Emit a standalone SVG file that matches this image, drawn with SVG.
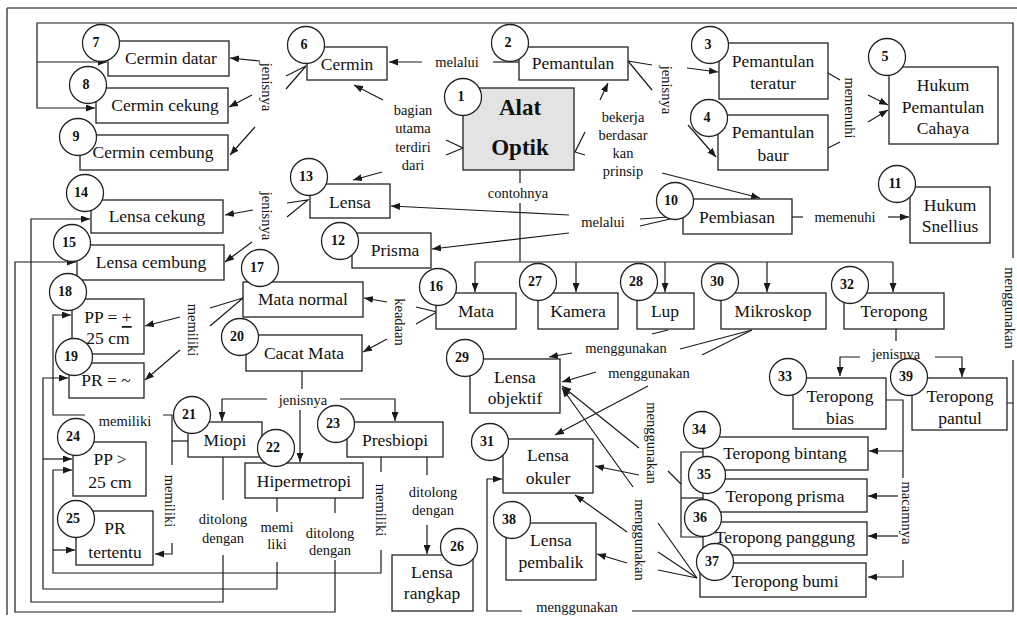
<svg xmlns="http://www.w3.org/2000/svg" width="1017" height="621" viewBox="0 0 1017 621">
<defs>
<marker id="a" markerWidth="9" markerHeight="7" refX="9" refY="3.5" orient="auto" markerUnits="userSpaceOnUse"><path d="M0,0 L9,3.5 L0,7 z" fill="#1a1a1a"/></marker>
<style>
.b{fill:#fff;stroke:#222;stroke-width:1.3}
.g{fill:#e3e3e3;stroke:#222;stroke-width:1.3}
.c{fill:#fff;stroke:#222;stroke-width:1.3}
.t{font-family:"Liberation Serif",serif;font-size:17.5px;fill:#111;text-anchor:middle;dominant-baseline:central}
.n{font-family:"Liberation Serif",serif;font-size:14px;font-weight:bold;fill:#111;text-anchor:middle;dominant-baseline:central}
.k{font-family:"Liberation Serif",serif;font-size:23px;font-weight:bold;fill:#111;text-anchor:middle;dominant-baseline:central}
.l{font-family:"Liberation Serif",serif;font-size:14.5px;fill:#111;text-anchor:middle;dominant-baseline:central}
#conn path,#conn line,#conn polyline{fill:none;stroke:#1a1a1a;stroke-width:1.2}
.ar{marker-end:url(#a)}
</style>
</defs>
<rect width="1017" height="621" fill="#fff"/>
<path d="M7,8 H1017 M7,8 V615" fill="none" stroke="#555" stroke-width="1.6"/>

<g id="conn">
<!-- teropong pantul -> menggunakan -> cermin datar/cekung, lensa okuler -->
<polyline points="1007,403 1013,403 1013,360"/>
<polyline points="1013,258 1013,23 37,23 37,108 95,108" class="ar"/>
<polyline points="37,62 107,62" class="ar"/>
<polyline points="1013,403 1013,611 632,611"/>
<polyline points="522,611 487,611 487,479 502,479" class="ar"/>
<!-- cermin jenisnya -->
<polyline points="286,76 306,66 286,89"/>
<line x1="260" y1="61" x2="230" y2="58" class="ar"/>
<line x1="252" y1="95" x2="229" y2="107" class="ar"/>
<line x1="255" y1="127" x2="230" y2="155" class="ar"/>
<!-- pemantulan melalui cermin -->
<line x1="519" y1="62" x2="493" y2="62"/>
<line x1="422" y1="62" x2="389" y2="62" class="ar"/>
<!-- alat optik bagian utama -->
<polyline points="446,140 463,148 446,155"/>
<line x1="383" y1="100" x2="354" y2="85" class="ar"/>
<line x1="382" y1="172" x2="353" y2="180" class="ar"/>
<!-- alat optik bekerja berdasarkan prinsip -->
<polyline points="585,132 575,152 585,155"/>
<line x1="600" y1="100" x2="608" y2="83" class="ar"/>
<line x1="662" y1="173" x2="760" y2="198" class="ar"/>
<!-- pemantulan jenisnya -->
<polyline points="652,65 628,61 652,90"/>
<line x1="687" y1="68" x2="718" y2="72" class="ar"/>
<line x1="688" y1="125" x2="716" y2="157" class="ar"/>
<!-- memenuhi hukum pemantulan -->
<line x1="828" y1="73" x2="840" y2="80"/>
<line x1="828" y1="148" x2="840" y2="142"/>
<line x1="868" y1="95" x2="888" y2="105" class="ar"/>
<line x1="868" y1="122" x2="888" y2="110" class="ar"/>
<!-- pembiasan memenuhi snellius -->
<line x1="792" y1="217" x2="803" y2="217"/>
<line x1="888" y1="217" x2="909" y2="217" class="ar"/>
<!-- pembiasan melalui lensa, prisma -->
<polyline points="640,219 683,216 640,226"/>
<line x1="569" y1="215" x2="391" y2="206" class="ar"/>
<line x1="569" y1="233" x2="432" y2="249" class="ar"/>
<!-- contohnya -->
<line x1="520" y1="170" x2="520" y2="183"/>
<line x1="520" y1="203" x2="520" y2="262"/>
<line x1="475" y1="262" x2="893" y2="262"/>
<line x1="475" y1="262" x2="475" y2="292" class="ar"/>
<line x1="576" y1="262" x2="576" y2="292" class="ar"/>
<line x1="665" y1="262" x2="665" y2="292" class="ar"/>
<line x1="767" y1="262" x2="767" y2="292" class="ar"/>
<line x1="893" y1="262" x2="893" y2="292" class="ar"/>
<!-- lensa jenisnya -->
<polyline points="287,203 308,200 287,217"/>
<line x1="253" y1="210" x2="225" y2="215" class="ar"/>
<line x1="252" y1="242" x2="225" y2="262" class="ar"/>
<!-- mata keadaan -->
<polyline points="416,307 437,312 416,324"/>
<line x1="387" y1="302" x2="364" y2="298" class="ar"/>
<line x1="387" y1="339" x2="363" y2="352" class="ar"/>
<!-- mata normal memiliki -->
<polyline points="210,308 243,298 210,326"/>
<line x1="180" y1="317" x2="145" y2="326" class="ar"/>
<line x1="180" y1="350" x2="145" y2="380" class="ar"/>
<!-- cacat mata jenisnya -->
<line x1="302" y1="371" x2="302" y2="389"/>
<polyline points="267,399 222,399 222,421" class="ar"/>
<polyline points="340,399 395,399 395,421" class="ar"/>
<line x1="300" y1="410" x2="300" y2="462" class="ar"/>
<!-- miopi memiliki -->
<polyline points="188,441 172,441"/>
<polyline points="172,465 172,415 163,415"/>
<polyline points="85,415 53,415 53,315 71,315" class="ar"/>
<polyline points="172,543 172,554 155,554" class="ar"/>
<!-- presbiopi memiliki -->
<line x1="381" y1="457" x2="381" y2="472"/>
<polyline points="381,550 381,573 53,573 53,470 72,470" class="ar"/>
<line x1="53" y1="550" x2="75" y2="550" class="ar"/>
<!-- hipermetropi memiliki -->
<line x1="277" y1="498" x2="277" y2="512"/>
<polyline points="277,562 277,589 43,589 43,378 68,378" class="ar"/>
<line x1="43" y1="459" x2="72" y2="459" class="ar"/>
<!-- miopi ditolong -->
<line x1="223" y1="457" x2="223" y2="500"/>
<polyline points="223,555 223,602 31,602 31,219 90,219" class="ar"/>
<!-- hipermetropi ditolong -->
<line x1="335" y1="498" x2="335" y2="513"/>
<polyline points="335,560 335,612 15,612 15,262 76,262" class="ar"/>
<!-- presbiopi ditolong -->
<line x1="427" y1="457" x2="427" y2="475"/>
<line x1="427" y1="525" x2="427" y2="554" class="ar"/>
<!-- teropong jenisnya -->
<line x1="896" y1="329" x2="896" y2="341"/>
<polyline points="860,357 840,357 840,376" class="ar"/>
<polyline points="935,357 962,357 962,377" class="ar"/>
<!-- teropong bias macamnya -->
<polyline points="886,400 903,400 903,478"/>
<polyline points="903,560 903,577 868,577" class="ar"/>
<line x1="903" y1="451" x2="869" y2="451" class="ar"/>
<line x1="898" y1="496" x2="868" y2="496" class="ar"/>
<line x1="898" y1="536" x2="868" y2="536" class="ar"/>
<!-- bracket 34-36 -->
<polyline points="703,452 681,452 681,537 703,537"/>
<line x1="681" y1="498" x2="703" y2="498"/>
<line x1="681" y1="484" x2="668" y2="471"/>
<!-- mikroskop / lup menggunakan -->
<line x1="752" y1="330" x2="680" y2="349"/>
<line x1="752" y1="330" x2="702" y2="355"/>
<line x1="652" y1="334" x2="668" y2="330"/>
<line x1="572" y1="353" x2="549" y2="357" class="ar"/>
<line x1="596" y1="372" x2="562" y2="382" class="ar"/>
<line x1="648" y1="386" x2="555" y2="435" class="ar"/>
<line x1="639" y1="448" x2="562" y2="386" class="ar"/>
<line x1="639" y1="475" x2="595" y2="466" class="ar"/>
<line x1="633" y1="487" x2="562" y2="388" class="ar"/>
<!-- teropong bumi menggunakan -->
<line x1="658" y1="523" x2="697" y2="578"/>
<line x1="658" y1="552" x2="697" y2="578"/>
<line x1="658" y1="570" x2="697" y2="578"/>
<line x1="627" y1="532" x2="575" y2="495" class="ar"/>
<line x1="627" y1="563" x2="597" y2="554" class="ar"/>
</g>

<g id="labels">
<text class="l" x="457" y="62">melalui</text>
<text class="l" transform="translate(267,87) rotate(90)">jenisnya</text>
<text class="l" x="413" y="110">bagian</text>
<text class="l" x="413" y="128">utama</text>
<text class="l" x="413" y="147">terdiri</text>
<text class="l" x="413" y="165">dari</text>
<text class="l" x="623" y="117">bekerja</text>
<text class="l" x="623" y="135">berdasar</text>
<text class="l" x="623" y="153">kan</text>
<text class="l" x="623" y="171">prinsip</text>
<text class="l" transform="translate(667,90) rotate(90)">jenisnya</text>
<text class="l" transform="translate(850,108) rotate(90)">memenuhi</text>
<text class="l" x="518" y="193">contohnya</text>
<text class="l" transform="translate(267,216) rotate(90)">jenisnya</text>
<text class="l" x="603" y="222">melalui</text>
<text class="l" x="845" y="217">memenuhi</text>
<text class="l" transform="translate(1010,308) rotate(90)">menggunakan</text>
<text class="l" transform="translate(400,322) rotate(90)">keadaan</text>
<text class="l" transform="translate(193,330) rotate(90)">memiliki</text>
<text class="l" x="626" y="348">menggunakan</text>
<text class="l" x="896" y="354">jenisnya</text>
<text class="l" x="649" y="373">menggunakan</text>
<text class="l" x="303" y="400">jenisnya</text>
<text class="l" transform="translate(652,443) rotate(90)">menggunakan</text>
<text class="l" x="125" y="421">memiliki</text>
<text class="l" transform="translate(907,513) rotate(90)">macamnya</text>
<text class="l" transform="translate(170,501) rotate(90)">memiliki</text>
<text class="l" transform="translate(381,510) rotate(90)">memiliki</text>
<text class="l" x="223" y="519">ditolong</text>
<text class="l" x="223" y="538">dengan</text>
<text class="l" x="277" y="527">memi</text>
<text class="l" x="277" y="544">liki</text>
<text class="l" x="330" y="533">ditolong</text>
<text class="l" x="330" y="550">dengan</text>
<text class="l" x="433" y="492">ditolong</text>
<text class="l" x="433" y="510">dengan</text>
<text class="l" transform="translate(640,540) rotate(90)">menggunakan</text>
<text class="l" x="577" y="607">menggunakan</text>
</g>

<g id="n1"><rect class="g" x="463" y="88" width="111" height="82"/><text class="k" x="520" y="107">Alat</text><text class="k" x="520" y="147">Optik</text><circle class="c" cx="463" cy="97" r="18.5"/><text class="n" x="461" y="96">1</text></g>
<g id="n2"><rect class="b" x="519" y="47" width="109" height="33"/><text class="t" x="573" y="63">Pemantulan</text><circle class="c" cx="510" cy="43" r="18.5"/><text class="n" x="508" y="42">2</text></g>
<g id="n3"><rect class="b" x="719" y="43" width="109" height="56"/><text class="t" x="773" y="61">Pemantulan</text><text class="t" x="773" y="83">teratur</text><circle class="c" cx="710" cy="45" r="18.5"/><text class="n" x="708" y="44">3</text></g>
<g id="n4"><rect class="b" x="718" y="115" width="110" height="55"/><text class="t" x="773" y="132">Pemantulan</text><text class="t" x="773" y="155">baur</text><circle class="c" cx="709" cy="118" r="18.5"/><text class="n" x="707" y="117">4</text></g>
<g id="n5"><rect class="b" x="889" y="67" width="109" height="77"/><text class="t" x="943" y="85">Hukum</text><text class="t" x="943" y="107">Pemantulan</text><text class="t" x="943" y="128">Cahaya</text><circle class="c" cx="887" cy="57" r="18.5"/><text class="n" x="885" y="56">5</text></g>
<g id="n6"><rect class="b" x="307" y="47" width="80" height="33"/><text class="t" x="347" y="64">Cermin</text><circle class="c" cx="306" cy="45" r="18.5"/><text class="n" x="304" y="44">6</text></g>
<g id="n7"><rect class="b" x="108" y="41" width="121" height="35"/><text class="t" x="171" y="58">Cermin datar</text><circle class="c" cx="101" cy="43" r="18.5"/><text class="n" x="96" y="42">7</text></g>
<g id="n8"><rect class="b" x="96" y="88" width="132" height="35"/><text class="t" x="165" y="105">Cermin cekung</text><circle class="c" cx="88" cy="85" r="18.5"/><text class="n" x="86" y="84">8</text></g>
<g id="n9"><rect class="b" x="80" y="135" width="148" height="35"/><text class="t" x="153" y="152">Cermin cembung</text><circle class="c" cx="78" cy="137" r="18.5"/><text class="n" x="76" y="136">9</text></g>
<g id="n10"><rect class="b" x="683" y="199" width="109" height="35"/><text class="t" x="737" y="217">Pembiasan</text><circle class="c" cx="675" cy="201" r="18.5"/><text class="n" x="671" y="200">10</text></g>
<g id="n11"><rect class="b" x="910" y="187" width="80" height="56"/><text class="t" x="950" y="205">Hukum</text><text class="t" x="950" y="226">Snellius</text><circle class="c" cx="897" cy="184" r="18.5"/><text class="n" x="895" y="183">11</text></g>
<g id="n12"><rect class="b" x="352" y="233" width="79" height="35"/><text class="t" x="395" y="250">Prisma</text><circle class="c" cx="340" cy="241" r="18.5"/><text class="n" x="338" y="240">12</text></g>
<g id="n13"><rect class="b" x="310" y="184" width="80" height="34"/><text class="t" x="350" y="202">Lensa</text><circle class="c" cx="309" cy="177" r="18.5"/><text class="n" x="306" y="176">13</text></g>
<g id="n14"><rect class="b" x="91" y="200" width="132" height="33"/><text class="t" x="157" y="216">Lensa cekung</text><circle class="c" cx="85" cy="193" r="18.5"/><text class="n" x="81" y="192">14</text></g>
<g id="n15"><rect class="b" x="77" y="245" width="147" height="35"/><text class="t" x="151" y="262">Lensa cembung</text><circle class="c" cx="72" cy="243" r="18.5"/><text class="n" x="69" y="242">15</text></g>
<g id="n16"><rect class="b" x="436" y="293" width="80" height="36"/><text class="t" x="476" y="311">Mata</text><circle class="c" cx="438" cy="287" r="18.5"/><text class="n" x="436" y="286">16</text></g>
<g id="n17"><rect class="b" x="243" y="282" width="120" height="35"/><text class="t" x="303" y="299">Mata normal</text><circle class="c" cx="260" cy="268" r="18.5"/><text class="n" x="257" y="267">17</text></g>
<g id="n18"><rect class="b" x="72" y="299" width="72" height="55"/><text class="t" x="108" y="317">PP = <tspan text-decoration="underline">+</tspan></text><text class="t" x="108" y="338">25 cm</text><circle class="c" cx="68" cy="292" r="18.5"/><text class="n" x="65" y="291">18</text></g>
<g id="n19"><rect class="b" x="69" y="363" width="75" height="35"/><text class="t" x="106" y="380">PR = ~</text><circle class="c" cx="74" cy="357" r="18.5"/><text class="n" x="71" y="356">19</text></g>
<g id="n20"><rect class="b" x="246" y="335" width="116" height="36"/><text class="t" x="304" y="353">Cacat Mata</text><circle class="c" cx="240" cy="337" r="18.5"/><text class="n" x="237" y="336">20</text></g>
<g id="n21"><rect class="b" x="188" y="422" width="74" height="35"/><text class="t" x="225" y="440">Miopi</text><circle class="c" cx="192" cy="415" r="18.5"/><text class="n" x="189" y="414">21</text></g>
<g id="n22"><rect class="b" x="245" y="463" width="118" height="35"/><text class="t" x="304" y="481">Hipermetropi</text><circle class="c" cx="276" cy="448" r="18.5"/><text class="n" x="273" y="447">22</text></g>
<g id="n23"><rect class="b" x="347" y="422" width="96" height="35"/><text class="t" x="395" y="440">Presbiopi</text><circle class="c" cx="336" cy="424" r="18.5"/><text class="n" x="333" y="423">23</text></g>
<g id="n24"><rect class="b" x="73" y="442" width="73" height="54"/><text class="t" x="110" y="459">PP &gt;</text><text class="t" x="110" y="482">25 cm</text><circle class="c" cx="76" cy="437" r="18.5"/><text class="n" x="73" y="436">24</text></g>
<g id="n25"><rect class="b" x="76" y="511" width="77" height="54"/><text class="t" x="115" y="528">PR</text><text class="t" x="115" y="552">tertentu</text><circle class="c" cx="76" cy="519" r="18.5"/><text class="n" x="73" y="518">25</text></g>
<g id="n26"><rect class="b" x="392" y="555" width="81" height="56"/><text class="t" x="432" y="572">Lensa</text><text class="t" x="432" y="593">rangkap</text><circle class="c" cx="459" cy="547" r="18.5"/><text class="n" x="457" y="546">26</text></g>
<g id="n27"><rect class="b" x="538" y="293" width="80" height="36"/><text class="t" x="578" y="311">Kamera</text><circle class="c" cx="538" cy="282" r="18.5"/><text class="n" x="535" y="281">27</text></g>
<g id="n28"><rect class="b" x="637" y="293" width="57" height="36"/><text class="t" x="665" y="311">Lup</text><circle class="c" cx="639" cy="282" r="18.5"/><text class="n" x="636" y="281">28</text></g>
<g id="n29"><rect class="b" x="470" y="359" width="90" height="54"/><text class="t" x="515" y="377">Lensa</text><text class="t" x="515" y="398">objektif</text><circle class="c" cx="465" cy="358" r="18.5"/><text class="n" x="462" y="357">29</text></g>
<g id="n30"><rect class="b" x="721" y="293" width="105" height="36"/><text class="t" x="773" y="311">Mikroskop</text><circle class="c" cx="720" cy="282" r="18.5"/><text class="n" x="717" y="281">30</text></g>
<g id="n31"><rect class="b" x="503" y="439" width="90" height="54"/><text class="t" x="548" y="455">Lensa</text><text class="t" x="548" y="478">okuler</text><circle class="c" cx="490" cy="442" r="18.5"/><text class="n" x="487" y="441">31</text></g>
<g id="n32"><rect class="b" x="844" y="293" width="100" height="36"/><text class="t" x="894" y="311">Teropong</text><circle class="c" cx="850" cy="285" r="18.5"/><text class="n" x="847" y="284">32</text></g>
<g id="n33"><rect class="b" x="793" y="378" width="93" height="51"/><text class="t" x="840" y="396">Teropong</text><text class="t" x="840" y="418">bias</text><circle class="c" cx="788" cy="377" r="18.5"/><text class="n" x="785" y="376">33</text></g>
<g id="n34"><rect class="b" x="703" y="437" width="165" height="33"/><text class="t" x="785" y="453">Teropong bintang</text><circle class="c" cx="702" cy="430" r="18.5"/><text class="n" x="699" y="429">34</text></g>
<g id="n35"><rect class="b" x="703" y="479" width="164" height="33"/><text class="t" x="785" y="496">Teropong prisma</text><circle class="c" cx="707" cy="475" r="18.5"/><text class="n" x="704" y="474">35</text></g>
<g id="n36"><rect class="b" x="703" y="522" width="164" height="33"/><text class="t" x="785" y="537">Teropong panggung</text><circle class="c" cx="703" cy="518" r="18.5"/><text class="n" x="700" y="517">36</text></g>
<g id="n37"><rect class="b" x="700" y="563" width="166" height="34"/><text class="t" x="785" y="581">Teropong bumi</text><circle class="c" cx="715" cy="562" r="18.5"/><text class="n" x="712" y="561">37</text></g>
<g id="n38"><rect class="b" x="506" y="523" width="90" height="57"/><text class="t" x="551" y="540">Lensa</text><text class="t" x="551" y="562">pembalik</text><circle class="c" cx="512" cy="520" r="18.5"/><text class="n" x="509" y="519">38</text></g>
<g id="n39"><rect class="b" x="912" y="378" width="95" height="52"/><text class="t" x="960" y="396">Teropong</text><text class="t" x="960" y="418">pantul</text><circle class="c" cx="909" cy="377" r="18.5"/><text class="n" x="906" y="376">39</text></g>
</svg>
